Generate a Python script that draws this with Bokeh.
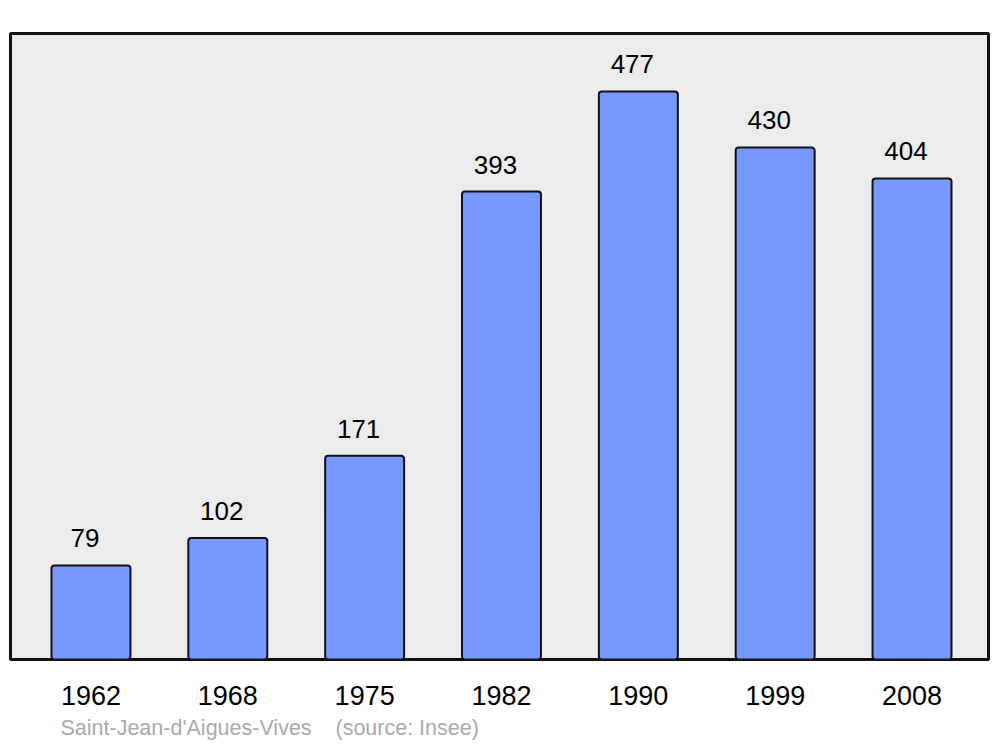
from bokeh.plotting import figure
from bokeh.models import ColumnDataSource, Range1d, FixedTicker, LabelSet, Title
from bokeh.core.properties import value
from bokeh.embed import file_html
from bokeh.resources import INLINE

years = ["1962", "1968", "1975", "1982", "1990", "1999", "2008"]
population = [79, 102, 171, 393, 477, 430, 404]
positions = list(range(len(years)))

source = ColumnDataSource(dict(x=positions, top=population, label=[str(v) for v in population]))

p = figure(width=991, height=745, output_backend="svg", toolbar_location=None,
           x_range=Range1d(-0.588, 6.559), y_range=Range1d(0, 525.7),
           min_border_left=10, min_border_right=3, min_border_top=33, min_border_bottom=86)
p.background_fill_color = "#ececec"
p.border_fill_color = "white"
p.outline_line_color = "#111111"
p.outline_line_width = 3
p.outline_line_alpha = 1.0
p.grid.visible = False
p.yaxis.visible = False

p.vbar(x="x", top="top", bottom=0, width=0.577, source=source,
       fill_color="#7799ff", line_color="#111111", line_width=2, border_radius=3)

labels = LabelSet(x="x", y="top", text="label", source=source, x_offset=-6, y_offset=18,
                  text_align="center", text_baseline="alphabetic",
                  text_font=value("Liberation Sans"), text_font_size=value("26px"),
                  text_color="black")
p.add_layout(labels)

xa = p.xaxis[0]
xa.ticker = FixedTicker(ticks=positions)
xa.major_label_overrides = {i: y for i, y in zip(positions, years)}
xa.axis_line_color = None
xa.major_tick_line_color = None
xa.minor_tick_line_color = None
xa.major_label_text_font = "Liberation Sans"
xa.major_label_text_font_size = "27px"
xa.major_label_text_color = "black"
xa.major_label_standoff = 20

nb = "\u00a0"
src = Title(text="Saint-Jean-d'Aigues-Vives" + nb * 4 + "(source: Insee)",
            align="left", offset=50, standoff=12,
            text_font="Liberation Sans", text_font_size="21.5px",
            text_font_style="normal", text_color="#aaaaaa")
p.add_layout(src, "below")

open("out.html", "w").write(file_html(p, INLINE))
